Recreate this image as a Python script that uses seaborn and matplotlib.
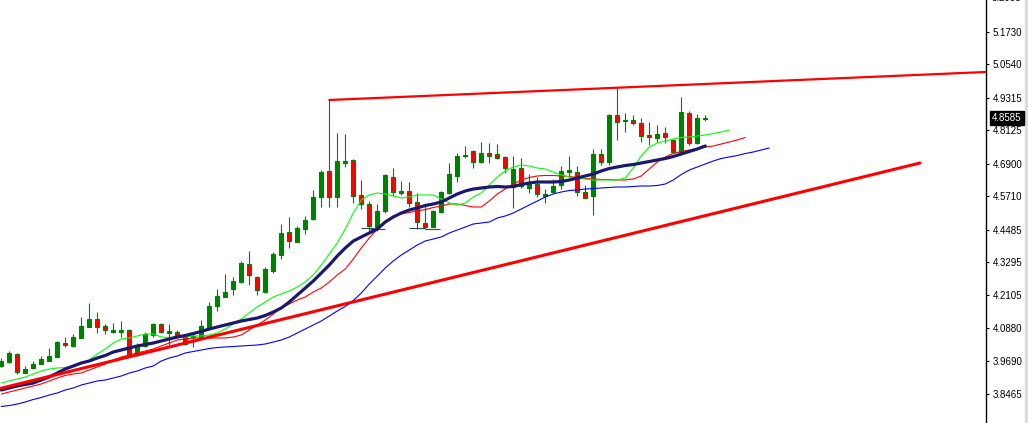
import numpy as np
import matplotlib
matplotlib.use("Agg")
import matplotlib.pyplot as plt
import seaborn as sns

# --- DATOS: velas (precio) ---
opens = [3.9503, 3.9660, 3.9942, 3.9258, 3.9430, 3.9587, 3.9697, 3.9843, 4.0355, 4.0235,
         4.0538, 4.0941, 4.1222, 4.0966, 4.0758, 4.0758, 4.0820, 3.9906, 4.0235, 4.0637,
         4.1039, 4.0710, 4.0736, 4.0575, 4.0553, 4.0553, 4.0941, 4.1709, 4.2038, 4.2319,
         4.2576, 4.3234, 4.2769, 4.2199, 4.2967, 4.3574, 4.4393, 4.4050, 4.4503, 4.4891,
         4.5674, 4.6636, 4.5674, 4.6946, 4.7038, 4.5747, 4.5421, 4.4587, 4.5183, 4.6409,
         4.5820, 4.5904, 4.5491, 4.4726, 4.4598, 4.5136, 4.5820, 4.6464, 4.7166, 4.7367,
         4.6965, 4.7294, 4.7257, 4.7137, 4.6032, 4.6734, 4.6025, 4.6149, 4.5721, 4.5867,
         4.6105, 4.6599, 4.6588, 4.5867, 4.5728, 4.7250, 4.6965, 4.8684, 4.8475, 4.8501,
         4.8380, 4.7952, 4.7854, 4.8014, 4.7769, 4.7341, 4.8746, 4.7649, 4.8548]
highs = [3.9796, 4.0052, 3.9990, 3.9503, 3.9686, 3.9869, 4.0162, 4.0429, 4.0575, 4.0663,
         4.1284, 4.1807, 4.1478, 4.1050, 4.1087, 4.1149, 4.0845, 4.0355, 4.0747, 4.1087,
         4.1065, 4.1028, 4.0820, 4.0626, 4.0699, 4.1186, 4.1855, 4.2309, 4.2868, 4.2748,
         4.3355, 4.3699, 4.2806, 4.3113, 4.3673, 4.4697, 4.4942, 4.4635, 4.4990, 4.5941,
         4.6672, 4.9232, 4.8025, 4.7989, 4.7063, 4.6306, 4.5538, 4.5428, 4.6515, 4.6745,
         4.6270, 4.6222, 4.5820, 4.5392, 4.5209, 4.5904, 4.6917, 4.7276, 4.7568, 4.7404,
         4.7696, 4.7649, 4.7623, 4.7184, 4.7184, 4.7111, 4.6526, 4.6405, 4.5995, 4.6325,
         4.6826, 4.7184, 4.6818, 4.6116, 4.7440, 4.7433, 4.8720, 4.9660, 4.8746, 4.8684,
         4.8563, 4.8417, 4.8318, 4.8234, 4.7788, 4.9331, 4.8830, 4.8720, 4.8684]
lows = [3.9467, 3.9624, 3.9211, 3.9236, 3.9404, 3.9565, 3.9668, 3.9821, 4.0187, 4.0209,
        4.0516, 4.0919, 4.0699, 4.0663, 4.0699, 4.0575, 3.9880, 3.9880, 4.0187, 4.0575,
        4.0721, 4.0271, 4.0516, 4.0260, 4.0209, 4.0516, 4.0820, 4.1515, 4.2016, 4.2100,
        4.2550, 4.2466, 4.2111, 4.2162, 4.2894, 4.3406, 4.3819, 4.4028, 4.4331, 4.4843,
        4.5330, 4.5330, 4.5330, 4.6782, 4.5476, 4.5235, 4.4459, 4.4459, 4.5110, 4.5721,
        4.5758, 4.5308, 4.4507, 4.4514, 4.4576, 4.5110, 4.5794, 4.6233, 4.7093, 4.6727,
        4.6939, 4.6928, 4.7056, 4.6562, 4.5289, 4.6014, 4.5831, 4.5692, 4.5483, 4.5831,
        4.5988, 4.6423, 4.5728, 4.5630, 4.5019, 4.6855, 4.6855, 4.7769, 4.8073, 4.8318,
        4.7707, 4.7587, 4.7707, 4.7649, 4.7283, 4.7319, 4.7587, 4.7612, 4.8464]
closes = [3.9697, 3.9990, 3.9284, 3.9393, 3.9576, 3.9770, 3.9869, 4.0392, 4.0260, 4.0564,
          4.0966, 4.1222, 4.0919, 4.0820, 4.0820, 4.0820, 3.9931, 4.0271, 4.0685, 4.1039,
          4.0747, 4.0772, 4.0590, 4.0319, 4.0600, 4.0966, 4.1698, 4.2064, 4.2210, 4.2623,
          4.3281, 4.2821, 4.2272, 4.3051, 4.3600, 4.4357, 4.4064, 4.4562, 4.4843, 4.5685,
          4.6599, 4.5674, 4.7001, 4.7001, 4.5739, 4.5421, 4.4606, 4.5172, 4.6489, 4.5849,
          4.5904, 4.5454, 4.4759, 4.4576, 4.5172, 4.5867, 4.6526, 4.7184, 4.7221, 4.6954,
          4.7294, 4.7195, 4.7100, 4.6734, 4.6701, 4.6080, 4.6160, 4.5783, 4.5794, 4.6087,
          4.6628, 4.6672, 4.5856, 4.5655, 4.7257, 4.6972, 4.8684, 4.8439, 4.8512, 4.8380,
          4.7927, 4.7868, 4.7989, 4.7868, 4.7319, 4.8782, 4.7649, 4.8563, 4.8585]

# --- medias moviles (la azul marino acaba en la ultima vela) ---
ma_navy = [3.8625, 3.8699, 3.8772, 3.8827, 3.8881, 3.8991, 3.9101, 3.9247, 3.9394, 3.9503,
           3.9613, 3.9686, 3.9796, 3.9887, 4.0015, 4.0088, 4.0162, 4.0235, 4.0290, 4.0344,
           4.0418, 4.0491, 4.0564, 4.0619, 4.0692, 4.0765, 4.0857, 4.0930, 4.1003, 4.1076,
           4.1149, 4.1204, 4.1259, 4.1350, 4.1478, 4.1625, 4.1844, 4.2100, 4.2356, 4.2612,
           4.2905, 4.3197, 4.3527, 4.3819, 4.4075, 4.4222, 4.4368, 4.4514, 4.4770, 4.4953,
           4.5099, 4.5209, 4.5282, 4.5374, 4.5429, 4.5502, 4.5648, 4.5794, 4.5904, 4.5977,
           4.6014, 4.6050, 4.6069, 4.6050, 4.6069, 4.6142, 4.6197, 4.6233, 4.6233, 4.6233,
           4.6251, 4.6306, 4.6380, 4.6453, 4.6526, 4.6636, 4.6727, 4.6782, 4.6837, 4.6873,
           4.6928, 4.6983, 4.7038, 4.7093, 4.7166, 4.7257, 4.7349, 4.7440, 4.7550]

# Alligator: labios (verde), dientes (rojo), mandibula (azul), desplazados a la derecha
lips = [3.8881, 3.8955, 3.9028, 3.9101, 3.9211, 3.9320, 3.9394, 3.9430, 3.9448, 3.9467,
        3.9576, 3.9723, 3.9942, 4.0125, 4.0344, 4.0491, 4.0527, 4.0601, 4.0674, 4.0674,
        4.0564, 4.0546, 4.0564, 4.0564, 4.0601, 4.0601, 4.0637, 4.0710, 4.0857, 4.1039,
        4.1222, 4.1442, 4.1661, 4.1844, 4.2027, 4.2137, 4.2246, 4.2393, 4.2576, 4.2832,
        4.3197, 4.3600, 4.4002, 4.4514, 4.5099, 4.5575, 4.5758, 4.5831, 4.5794, 4.5721,
        4.5648, 4.5685, 4.5758, 4.5758, 4.5758, 4.5611, 4.5465, 4.5392, 4.5465, 4.5685,
        4.5831, 4.6123, 4.6416, 4.6636, 4.6782, 4.6855, 4.6818, 4.6745, 4.6709, 4.6599,
        4.6489, 4.6416, 4.6380, 4.6343, 4.6306, 4.6306, 4.6306, 4.6306, 4.6380, 4.6745,
        4.7184, 4.7513, 4.7660, 4.7733, 4.7806, 4.7861, 4.7879, 4.7916, 4.7952, 4.8007,
        4.8062, 4.8135]
teeth = [3.8479, 3.8552, 3.8625, 3.8699, 3.8772, 3.8845, 3.8955, 3.9064, 3.9156, 3.9211,
         3.9247, 3.9357, 3.9467, 3.9576, 3.9723, 3.9832, 3.9906, 3.9979, 4.0052, 4.0125,
         4.0235, 4.0344, 4.0454, 4.0491, 4.0527, 4.0527, 4.0527, 4.0527, 4.0527, 4.0564,
         4.0637, 4.0820, 4.1003, 4.1186, 4.1405, 4.1625, 4.1771, 4.1917, 4.2027, 4.2210,
         4.2356, 4.2576, 4.2832, 4.3051, 4.3417, 4.3819, 4.4185, 4.4514, 4.4807, 4.4990,
         4.5063, 4.5118, 4.5172, 4.5227, 4.5300, 4.5355, 4.5429, 4.5429, 4.5374, 4.5319,
         4.5319, 4.5538, 4.5794, 4.5977, 4.6160, 4.6306, 4.6398, 4.6453, 4.6471, 4.6471,
         4.6453, 4.6434, 4.6398, 4.6361, 4.6343, 4.6325, 4.6325, 4.6306, 4.6306, 4.6343,
         4.6453, 4.6709, 4.6965, 4.7148, 4.7276, 4.7349, 4.7404, 4.7459, 4.7513, 4.7550,
         4.7623, 4.7696, 4.7769, 4.7861]
jaw = [3.8022, 3.8058, 3.8113, 3.8186, 3.8278, 3.8351, 3.8442, 3.8516, 3.8625, 3.8699,
       3.8808, 3.8881, 3.8955, 3.8991, 3.9064, 3.9137, 3.9247, 3.9320, 3.9430, 3.9503,
       3.9686, 3.9796, 3.9869, 3.9979, 4.0034, 4.0088, 4.0143, 4.0180, 4.0198, 4.0216,
       4.0235, 4.0253, 4.0271, 4.0308, 4.0381, 4.0454, 4.0564, 4.0710, 4.0857, 4.1003,
       4.1149, 4.1332, 4.1515, 4.1680, 4.1899, 4.2173, 4.2502, 4.2795, 4.3088, 4.3344,
       4.3563, 4.3746, 4.3929, 4.4075, 4.4148, 4.4222, 4.4368, 4.4478, 4.4587, 4.4697,
       4.4734, 4.4770, 4.4916, 4.4990, 4.5099, 4.5246, 4.5392, 4.5538, 4.5685, 4.5794,
       4.5867, 4.5922, 4.5941, 4.5977, 4.5995, 4.6014, 4.6032, 4.6050, 4.6050, 4.6069,
       4.6087, 4.6087, 4.6105, 4.6160, 4.6306, 4.6508, 4.6672, 4.6782, 4.6892, 4.7001,
       4.7093, 4.7148, 4.7202, 4.7276, 4.7330, 4.7404, 4.7477]

# --- lineas de tendencia (indice de vela, precio) ---
soporte_x = [-0.16, 114.84]
soporte_y = [3.8680, 4.6928]
resistencia_x = [41, 123.1]
resistencia_y = [4.9232, 5.0257]

# --- marcas horizontales bajo los minimos ---
marca_ini = [45.0, 46.1, 51.0, 53.0]
marca_fin = [46.6, 48.0, 53.0, 54.9]
marca_nivel = [4.4562, 4.4514, 4.4540, 4.4514]

# --- eje de precios ---
ticks_precio = [5.1730, 5.0540, 4.9315, 4.8125, 4.6900, 4.5710, 4.4485,
                4.3295, 4.2105, 4.0880, 3.9690, 3.8465]
tick_arriba = 5.2955
precio_actual = 4.8585

# --- GRAFICO ---
sns.set_style("white")
plt.rcParams['font.family'] = ['Liberation Sans', 'DejaVu Sans']

fig = plt.figure(figsize=(10.28, 4.23), dpi=100)
ax = fig.add_axes([0, 0, 986 / 1028, 1])

x = np.arange(len(opens))
o = np.array(opens)
c = np.array(closes)
sube = c >= o

verde = '#008000'
ax.vlines(x, lows, highs, color=verde, linewidth=0.8, zorder=2)
ax.bar(x, np.abs(c - o), bottom=np.minimum(o, c), width=0.55,
       color=np.where(sube, verde, '#FF0000'), edgecolor=verde,
       linewidth=0.8, zorder=3)

for ini, fin, nivel in zip(marca_ini, marca_fin, marca_nivel):
    ax.hlines(nivel, ini, fin, color='#2F4F4F', linewidth=0.8, zorder=3)

sns.lineplot(x=np.arange(len(jaw)), y=jaw, ax=ax, color='#0000FF', linewidth=0.8, zorder=4)
sns.lineplot(x=np.arange(len(teeth)), y=teeth, ax=ax, color='#FF0000', linewidth=0.8, zorder=4)
sns.lineplot(x=np.arange(len(lips)), y=lips, ax=ax, color='#00FF00', linewidth=0.8, zorder=4)
sns.lineplot(x=np.arange(len(ma_navy)), y=ma_navy, ax=ax, color='#191970', linewidth=2.3, zorder=5)

ax.plot(soporte_x, soporte_y, color='#FF0000', linewidth=2.2, zorder=6)
ax.plot(resistencia_x, resistencia_y, color='#FF0000', linewidth=1.6, zorder=6)

ax.set_xlim(-0.1625, 123.09)
ax.set_ylim(3.7418, 5.2890)
ax.set_xticks([])
ax.yaxis.tick_right()
ax.set_yticks(ticks_precio)
ax.set_yticklabels([f"{t:.4f}" for t in ticks_precio])
ax.tick_params(axis='y', direction='out', length=2.2, width=0.8, pad=2.5,
               labelsize=7, colors='black')
for lado in ['top', 'left', 'bottom']:
    ax.spines[lado].set_visible(False)
ax.spines['right'].set_color('black')
ax.spines['right'].set_linewidth(1.0)
ax.set_xlabel('')
ax.set_ylabel('')

# etiqueta cortada arriba y precio actual
ax.annotate(f"{tick_arriba:.4f}", xy=(1, tick_arriba), xycoords=('axes fraction', 'data'),
            xytext=(4.3, 0), textcoords='offset points', ha='left', va='center',
            fontsize=7, color='black', annotation_clip=False)
ax.annotate(f"{precio_actual:.4f}", xy=(1, precio_actual), xycoords=('axes fraction', 'data'),
            xytext=(4.3, 0), textcoords='offset points', ha='left', va='center',
            fontsize=7, color='white', annotation_clip=False,
            bbox=dict(boxstyle='square,pad=0.22', facecolor='black', edgecolor='black'))

fig.add_artist(plt.Rectangle((1025 / 1028, 0), 3 / 1028, 1, transform=fig.transFigure,
                             color='#DCDCDC', zorder=0))

plt.savefig('out.png', dpi=100)
